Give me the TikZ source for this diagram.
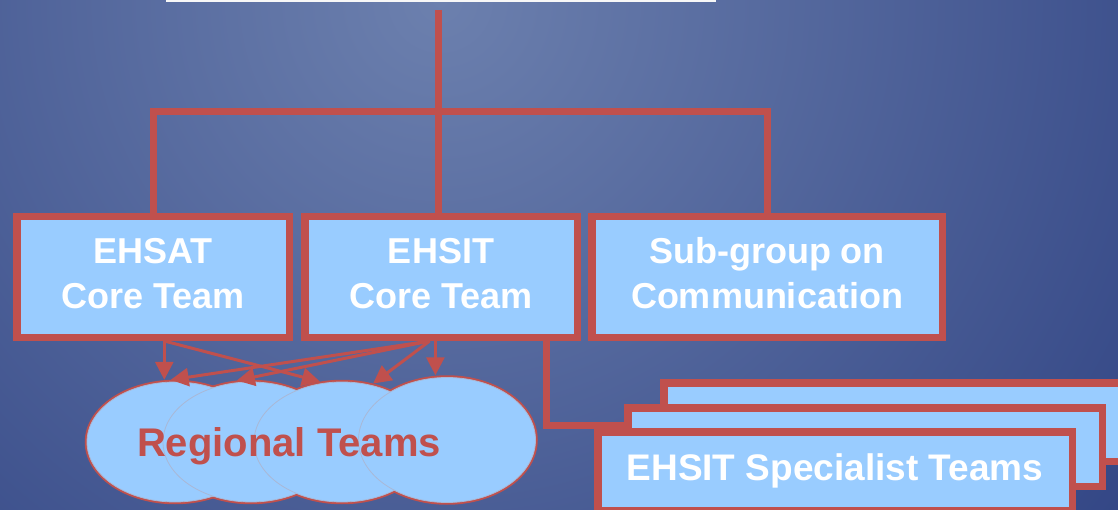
\documentclass[tikz,border=0pt]{standalone}
\usepackage{fontspec}
\setmainfont{Liberation Sans}
\usetikzlibrary{arrows.meta,shapes.geometric}

\definecolor{boxred}{HTML}{C0504D}
\definecolor{boxblue}{HTML}{99CCFF}
\definecolor{bgtop}{HTML}{6C80AE}
\definecolor{bgbottom}{HTML}{23367A}
\definecolor{ringline}{HTML}{A9B8D6}

\begin{document}
\begin{tikzpicture}[x=1pt,y=-1pt,
    team/.style={draw=boxred, line width=7.5pt, fill=boxblue, text=white,
        font={\fontsize{36}{45}\selectfont\bfseries}, align=center, inner sep=0pt},
    link/.style={draw=boxred, line width=7pt},
    feed/.style={draw=boxred, line width=3pt, -{Triangle[length=18pt,width=18pt]}},
    region/.style={ellipse, draw=boxred, line width=4.5pt, inner sep=0pt,
        minimum width=176pt, minimum height=120pt}]

    % background
    \useasboundingbox (0,0) rectangle (1118,510);
    \begin{scope}
        \clip (0,0) rectangle (1118,510);
        \shade[inner color=bgtop, outer color=bgbottom] (440,0) circle (1100pt);
    \end{scope}
    \fill[white!94!gray] (166,0) rectangle (716,2.5);

    % core teams
    \node[team, minimum width=272.5pt, minimum height=120.5pt] (ehsat) at (153,277) {EHSAT\\Core Team\rule[-8pt]{0pt}{0pt}};
    \node[team, minimum width=272.5pt, minimum height=120.5pt] (ehsit) at (441,277) {EHSIT\\Core Team\rule[-8pt]{0pt}{0pt}};
    \node[team, minimum width=350.5pt, minimum height=120.5pt] (sub) at (767,277) {Sub-group on\\Communication\rule[-8pt]{0pt}{0pt}};

    \coordinate (top) at (438,10);
    \coordinate (bar) at (438,112);
    \draw[link] (top) -- (top |- ehsit.north);
    \draw[link] (ehsat.north) |- (bar) -| (sub.north);

    % specialist teams
    \node[team, minimum width=474.5pt, minimum height=78.5pt] (spec3) at (901,422) {};
    \node[team, minimum width=474.5pt, minimum height=78.5pt] (spec2) at (865,447) {};
    \node[team, minimum width=474.5pt, minimum height=78.5pt, font={\fontsize{37}{45}\selectfont\bfseries}] (spec1) at (835,471) {EHSIT Specialist Teams\rule[-6pt]{0pt}{0pt}};

    \coordinate (bend) at (546,425);
    \draw[link] (ehsit.south -| bend) |- (spec2.west |- bend);

    % regional teams
    \node[region] (r1) at (175,442) {};
    \node[region] (r2) at (251,442) {};
    \node[region] (r3) at (342,442) {};
    \node[region, minimum width=177pt, minimum height=125pt] (r4) at (447,440) {};
    \foreach \r/\a/\b in {r1/88/60, r2/88/60, r3/88/60, r4/88.5/62.5}
        \filldraw[fill=boxblue, draw=ringline, line width=0.8pt] (\r.center) ellipse [x radius=\a pt, y radius=\b pt];

    \node[font={\fontsize{40}{45}\selectfont\bfseries}, text=boxred] (regional) at (289,446) {Regional Teams};

    \draw[feed] (ehsat.-80) -- (ehsat.-80 |- r1.north);
    \draw[feed] (ehsat.-80) -- (r3.110);
    \draw[feed] (ehsit.-100) -- (r1.94);
    \draw[feed] (ehsit.-100) -- (r2.103);
    \draw[feed] (ehsit.-100) -- (r3.62);
    \draw[feed] (ehsit.-95) -- (ehsit.-95 |- r4.north);
\end{tikzpicture}
\end{document}
